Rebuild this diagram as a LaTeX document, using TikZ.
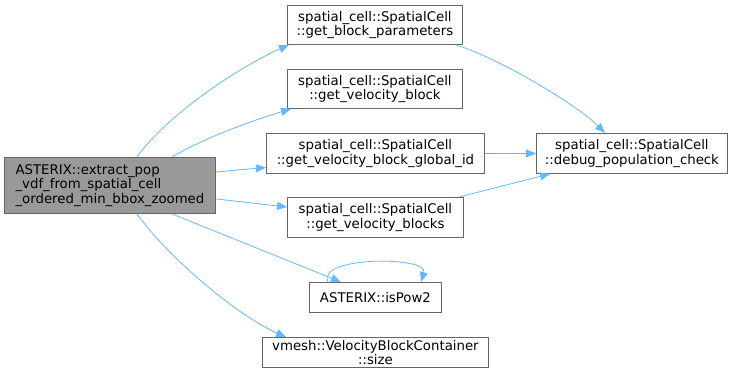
\documentclass[tikz,border=0pt]{standalone}
\usepackage{fontspec}
\setmainfont{DejaVu Sans}
\usetikzlibrary{arrows.meta}
\definecolor{edgec}{HTML}{63B8FF}
\definecolor{bordc}{HTML}{666666}
\definecolor{mainf}{HTML}{999999}
\begin{document}
\begin{tikzpicture}[x=1pt,y=-1pt,
  box/.style={draw=bordc,fill=white,line width=0.9pt,inner sep=0pt,anchor=north west,align=center,font=\fontsize{13.3}{14.5}\selectfont},
  edge/.style={draw=edgec,line width=0.8pt,-{Triangle[length=10pt,width=8pt]}}]
\useasboundingbox (0,0) rectangle (732,381);
\node[box,fill=mainf,align=left,minimum width=211pt,minimum height=56pt] (m) at (4,157) {ASTERIX::extract\_pop\\\_vdf\_from\_spatial\_cell\\\_ordered\_min\_bbox\_zoomed};
\node[box,minimum width=175pt,minimum height=39pt] (a) at (287,5) {spatial\_cell::SpatialCell\\::get\_block\_parameters};
\node[box,minimum width=175pt,minimum height=39pt] (b) at (287,69) {spatial\_cell::SpatialCell\\::get\_velocity\_block};
\node[box,minimum width=218pt,minimum height=40pt] (c) at (266,133) {spatial\_cell::SpatialCell\\::get\_velocity\_block\_global\_id};
\node[box,minimum width=176pt,minimum height=40pt] (d) at (287,197) {spatial\_cell::SpatialCell\\::get\_velocity\_blocks};
\node[box,minimum width=132pt,minimum height=30pt] (e) at (309,282) {ASTERIX::isPow2};
\node[box,minimum width=226pt,minimum height=30pt] (f) at (262,337) {vmesh::VelocityBlockContainer\\::size};
\node[box,minimum width=191pt,minimum height=40pt] (g) at (536,133) {spatial\_cell::SpatialCell\\::debug\_population\_check};
\draw[edge] ([xshift=133pt]m.north west) .. controls +(30,-42) and +(-50,22) .. ([xshift=2pt]a.south west);
\draw[edge] ([xshift=168pt]m.north west) .. controls +(30,-18) and +(-40,12) .. ([xshift=4pt]b.south west);
\draw[edge] ([yshift=-15pt]m.north east) -- ([yshift=-14pt]c.west);
\draw[edge] ([yshift=15pt]m.south east) -- ([yshift=-10pt]d.north west);
\draw[edge] ([xshift=168pt]m.south west) -- ([xshift=32pt]e.north west);
\draw[edge] ([xshift=133pt]m.south west) .. controls +(30,42) and +(-50,-22) .. ([xshift=24pt]f.north west);
\draw[edge] ([xshift=19pt]e.north west) .. controls +(-12,-26) and +(8,-26) .. ([xshift=112pt]e.north west);
\draw[edge] ([xshift=-7pt]a.south east) .. controls +(40,12) and +(-30,-30) .. ([xshift=69pt]g.north west);
\draw[edge] (c.east) -- (g.west);
\draw[edge] ([xshift=-5pt]d.north east) -- ([xshift=14pt]g.south west);
\end{tikzpicture}
\end{document}
